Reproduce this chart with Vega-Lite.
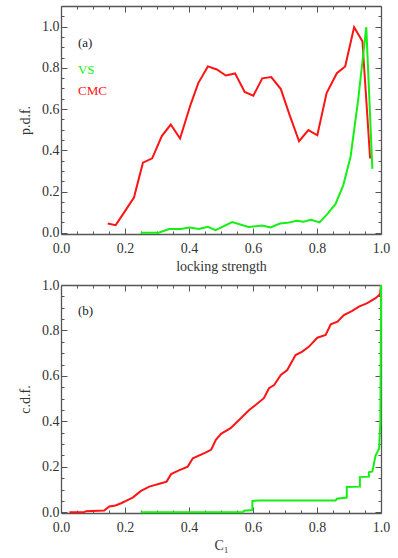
{
  "$schema": "https://vega.github.io/schema/vega-lite/v6.json",
  "padding": {"left": 18, "top": 5, "right": 5, "bottom": 5},
  "background": "white",
  "spacing": 5,
  "datasets": {
    "pdf_cmc": [
      {"x": 0.146, "y": 0.045}, {"x": 0.171, "y": 0.037}, {"x": 0.2, "y": 0.105}, {"x": 0.228, "y": 0.171},
      {"x": 0.256, "y": 0.34}, {"x": 0.285, "y": 0.361}, {"x": 0.315, "y": 0.469}, {"x": 0.343, "y": 0.525},
      {"x": 0.372, "y": 0.457}, {"x": 0.405, "y": 0.622}, {"x": 0.429, "y": 0.726}, {"x": 0.459, "y": 0.807},
      {"x": 0.487, "y": 0.792}, {"x": 0.515, "y": 0.763}, {"x": 0.544, "y": 0.773}, {"x": 0.574, "y": 0.683},
      {"x": 0.601, "y": 0.665}, {"x": 0.629, "y": 0.749}, {"x": 0.657, "y": 0.755}, {"x": 0.687, "y": 0.697},
      {"x": 0.714, "y": 0.573}, {"x": 0.744, "y": 0.444}, {"x": 0.773, "y": 0.498}, {"x": 0.801, "y": 0.473},
      {"x": 0.83, "y": 0.678}, {"x": 0.862, "y": 0.774}, {"x": 0.888, "y": 0.807}, {"x": 0.916, "y": 0.997},
      {"x": 0.942, "y": 0.929}, {"x": 0.966, "y": 0.36}
    ],
    "pdf_vs": [
      {"x": 0.249, "y": 0.0}, {"x": 0.305, "y": 0.0}, {"x": 0.338, "y": 0.018}, {"x": 0.374, "y": 0.018},
      {"x": 0.402, "y": 0.026}, {"x": 0.431, "y": 0.018}, {"x": 0.459, "y": 0.029}, {"x": 0.483, "y": 0.013},
      {"x": 0.535, "y": 0.052}, {"x": 0.586, "y": 0.028}, {"x": 0.629, "y": 0.035}, {"x": 0.655, "y": 0.026},
      {"x": 0.684, "y": 0.045}, {"x": 0.707, "y": 0.048}, {"x": 0.737, "y": 0.058}, {"x": 0.757, "y": 0.053},
      {"x": 0.782, "y": 0.063}, {"x": 0.808, "y": 0.05}, {"x": 0.832, "y": 0.09}, {"x": 0.858, "y": 0.14},
      {"x": 0.882, "y": 0.23}, {"x": 0.905, "y": 0.37}, {"x": 0.929, "y": 0.65}, {"x": 0.954, "y": 0.997},
      {"x": 0.973, "y": 0.31}
    ],
    "cdf_cmc": [
      {"x": 0.026, "y": 0.0}, {"x": 0.072, "y": 0.0}, {"x": 0.078, "y": 0.005}, {"x": 0.135, "y": 0.008},
      {"x": 0.151, "y": 0.026}, {"x": 0.17, "y": 0.03}, {"x": 0.188, "y": 0.04}, {"x": 0.203, "y": 0.05},
      {"x": 0.224, "y": 0.065}, {"x": 0.25, "y": 0.094}, {"x": 0.276, "y": 0.113}, {"x": 0.313, "y": 0.128},
      {"x": 0.33, "y": 0.135}, {"x": 0.344, "y": 0.168}, {"x": 0.365, "y": 0.182}, {"x": 0.396, "y": 0.201},
      {"x": 0.412, "y": 0.238}, {"x": 0.448, "y": 0.26}, {"x": 0.469, "y": 0.275}, {"x": 0.484, "y": 0.319},
      {"x": 0.5, "y": 0.345}, {"x": 0.53, "y": 0.37}, {"x": 0.562, "y": 0.414}, {"x": 0.588, "y": 0.45},
      {"x": 0.608, "y": 0.472}, {"x": 0.634, "y": 0.502}, {"x": 0.65, "y": 0.546}, {"x": 0.666, "y": 0.56},
      {"x": 0.687, "y": 0.604}, {"x": 0.707, "y": 0.626}, {"x": 0.733, "y": 0.692}, {"x": 0.754, "y": 0.707},
      {"x": 0.775, "y": 0.729}, {"x": 0.801, "y": 0.768}, {"x": 0.827, "y": 0.78}, {"x": 0.843, "y": 0.827},
      {"x": 0.864, "y": 0.839}, {"x": 0.884, "y": 0.868}, {"x": 0.91, "y": 0.886}, {"x": 0.931, "y": 0.905},
      {"x": 0.957, "y": 0.92}, {"x": 0.983, "y": 0.942}, {"x": 0.997, "y": 0.959}, {"x": 1.0, "y": 1.0}
    ],
    "cdf_vs": [
      {"x": 0.249, "y": 0.0}, {"x": 0.568, "y": 0.0}, {"x": 0.572, "y": 0.007}, {"x": 0.598, "y": 0.01},
      {"x": 0.598, "y": 0.05}, {"x": 0.62, "y": 0.052}, {"x": 0.858, "y": 0.052}, {"x": 0.862, "y": 0.06},
      {"x": 0.893, "y": 0.065}, {"x": 0.893, "y": 0.111}, {"x": 0.934, "y": 0.113}, {"x": 0.934, "y": 0.155},
      {"x": 0.962, "y": 0.157}, {"x": 0.962, "y": 0.176}, {"x": 0.973, "y": 0.18}, {"x": 0.983, "y": 0.25},
      {"x": 0.994, "y": 0.28}, {"x": 0.998, "y": 0.4}, {"x": 1.0, "y": 0.88}, {"x": 1.0, "y": 1.0}
    ]
  },
  "vconcat": [
    {
      "width": 320,
      "height": 228,
      "resolve": {"axis": {"x": "independent", "y": "independent"}},
      "layer": [
        {
          "data": {"name": "pdf_cmc"},
          "mark": {"type": "line", "color": "#ff1414", "strokeWidth": 2},
          "encoding": {
            "x": {"field": "x", "type": "quantitative",
              "scale": {"domain": [0, 1], "nice": false, "zero": false},
              "axis": {"orient": "bottom", "title": "locking strength", "titlePadding": 1,
                "values": [0, 0.05, 0.1, 0.15, 0.2, 0.25, 0.3, 0.35, 0.4, 0.45, 0.5, 0.55, 0.6, 0.65, 0.7, 0.75, 0.8, 0.85, 0.9, 0.95, 1.0],
                "tickSize": {"condition": {"test": "abs(datum.value*5-round(datum.value*5))<0.001", "value": -6}, "value": -3},
                "labelPadding": 13,
                "labelExpr": "abs(datum.value*5-round(datum.value*5))<0.001 ? format(datum.value,'.1f') : ''"}},
            "y": {"field": "y", "type": "quantitative",
              "scale": {"domain": [-0.006, 1.1], "nice": false, "zero": false},
              "axis": {"orient": "left", "title": "p.d.f.", "titlePadding": 9,
                "values": [0, 0.05, 0.1, 0.15, 0.2, 0.25, 0.3, 0.35, 0.4, 0.45, 0.5, 0.55, 0.6, 0.65, 0.7, 0.75, 0.8, 0.85, 0.9, 0.95, 1.0, 1.05],
                "tickSize": {"condition": {"test": "abs(datum.value*5-round(datum.value*5))<0.001", "value": -6}, "value": -3},
                "labelPadding": 8,
                "labelExpr": "abs(datum.value*5-round(datum.value*5))<0.001 ? format(datum.value,'.1f') : ''"}},
            "order": {"value": null}
          }
        },
        {
          "data": {"name": "pdf_vs"},
          "mark": {"type": "line", "color": "#14f014", "strokeWidth": 2},
          "encoding": {
            "x": {"field": "x", "type": "quantitative",
              "axis": {"orient": "top", "title": null, "labels": false,
                "values": [0, 0.05, 0.1, 0.15, 0.2, 0.25, 0.3, 0.35, 0.4, 0.45, 0.5, 0.55, 0.6, 0.65, 0.7, 0.75, 0.8, 0.85, 0.9, 0.95, 1.0],
                "tickSize": {"condition": {"test": "abs(datum.value*5-round(datum.value*5))<0.001", "value": -6}, "value": -3}}},
            "y": {"field": "y", "type": "quantitative",
              "axis": {"orient": "right", "title": null, "labels": false,
                "values": [0, 0.05, 0.1, 0.15, 0.2, 0.25, 0.3, 0.35, 0.4, 0.45, 0.5, 0.55, 0.6, 0.65, 0.7, 0.75, 0.8, 0.85, 0.9, 0.95, 1.0, 1.05],
                "tickSize": {"condition": {"test": "abs(datum.value*5-round(datum.value*5))<0.001", "value": -6}, "value": -3}}},
            "order": {"value": null}
          }
        },
        {
          "data": {"values": [{"t": "(a)"}]},
          "mark": {"type": "text", "align": "left", "baseline": "middle", "font": "Liberation Serif", "fontSize": 13, "color": "#222"},
          "encoding": {
            "x": {"datum": 0.053, "type": "quantitative", "axis": null},
            "y": {"datum": 0.92, "type": "quantitative", "axis": null},
            "text": {"field": "t"}
          }
        },
        {
          "data": {"values": [{"t": "VS"}]},
          "mark": {"type": "text", "align": "left", "baseline": "middle", "font": "Liberation Serif", "fontSize": 13, "color": "#14f014"},
          "encoding": {
            "x": {"datum": 0.053, "type": "quantitative", "axis": null},
            "y": {"datum": 0.79, "type": "quantitative", "axis": null},
            "text": {"field": "t"}
          }
        },
        {
          "data": {"values": [{"t": "CMC"}]},
          "mark": {"type": "text", "align": "left", "baseline": "middle", "font": "Liberation Serif", "fontSize": 13, "color": "#ff1414"},
          "encoding": {
            "x": {"datum": 0.053, "type": "quantitative", "axis": null},
            "y": {"datum": 0.69, "type": "quantitative", "axis": null},
            "text": {"field": "t"}
          }
        }
      ]
    },
    {
      "width": 320,
      "height": 228,
      "resolve": {"axis": {"x": "independent", "y": "independent"}},
      "layer": [
        {
          "data": {"name": "cdf_cmc"},
          "mark": {"type": "line", "color": "#ff1414", "strokeWidth": 2},
          "encoding": {
            "x": {"field": "x", "type": "quantitative",
              "scale": {"domain": [0, 1], "nice": false, "zero": false},
              "axis": {"orient": "bottom", "title": "C₁", "titlePadding": 1,
                "values": [0, 0.05, 0.1, 0.15, 0.2, 0.25, 0.3, 0.35, 0.4, 0.45, 0.5, 0.55, 0.6, 0.65, 0.7, 0.75, 0.8, 0.85, 0.9, 0.95, 1.0],
                "tickSize": {"condition": {"test": "abs(datum.value*5-round(datum.value*5))<0.001", "value": -6}, "value": -3},
                "labelPadding": 13,
                "labelExpr": "abs(datum.value*5-round(datum.value*5))<0.001 ? format(datum.value,'.1f') : ''"}},
            "y": {"field": "y", "type": "quantitative",
              "scale": {"domain": [-0.003, 1.0], "nice": false, "zero": false},
              "axis": {"orient": "left", "title": "c.d.f.", "titlePadding": 9,
                "values": [0, 0.05, 0.1, 0.15, 0.2, 0.25, 0.3, 0.35, 0.4, 0.45, 0.5, 0.55, 0.6, 0.65, 0.7, 0.75, 0.8, 0.85, 0.9, 0.95, 1.0],
                "tickSize": {"condition": {"test": "abs(datum.value*5-round(datum.value*5))<0.001", "value": -6}, "value": -3},
                "labelPadding": 8,
                "labelExpr": "abs(datum.value*5-round(datum.value*5))<0.001 ? format(datum.value,'.1f') : ''"}},
            "order": {"value": null}
          }
        },
        {
          "data": {"name": "cdf_vs"},
          "mark": {"type": "line", "color": "#14f014", "strokeWidth": 2},
          "encoding": {
            "x": {"field": "x", "type": "quantitative",
              "axis": {"orient": "top", "title": null, "labels": false,
                "values": [0, 0.05, 0.1, 0.15, 0.2, 0.25, 0.3, 0.35, 0.4, 0.45, 0.5, 0.55, 0.6, 0.65, 0.7, 0.75, 0.8, 0.85, 0.9, 0.95, 1.0],
                "tickSize": {"condition": {"test": "abs(datum.value*5-round(datum.value*5))<0.001", "value": -6}, "value": -3}}},
            "y": {"field": "y", "type": "quantitative",
              "axis": {"orient": "right", "title": null, "labels": false,
                "values": [0, 0.05, 0.1, 0.15, 0.2, 0.25, 0.3, 0.35, 0.4, 0.45, 0.5, 0.55, 0.6, 0.65, 0.7, 0.75, 0.8, 0.85, 0.9, 0.95, 1.0],
                "tickSize": {"condition": {"test": "abs(datum.value*5-round(datum.value*5))<0.001", "value": -6}, "value": -3}}},
            "order": {"value": null}
          }
        },
        {
          "data": {"values": [{"t": "(b)"}]},
          "mark": {"type": "text", "align": "left", "baseline": "middle", "font": "Liberation Serif", "fontSize": 13, "color": "#222"},
          "encoding": {
            "x": {"datum": 0.053, "type": "quantitative", "axis": null},
            "y": {"datum": 0.887, "type": "quantitative", "axis": null},
            "text": {"field": "t"}
          }
        }
      ]
    }
  ],
  "config": {
    "view": {"stroke": null},
    "axis": {
      "grid": false,
      "domainColor": "#555555",
      "domainWidth": 1.3,
      "tickColor": "#555555",
      "tickWidth": 1,
      "labelFont": "Liberation Serif",
      "labelFontSize": 14,
      "labelColor": "#333333",
      "labelFlush": false,
      "labelOverlap": false,
      "titleFont": "Liberation Serif",
      "titleFontSize": 14,
      "titleFontWeight": "normal",
      "titleColor": "#333333"
    }
  }
}
